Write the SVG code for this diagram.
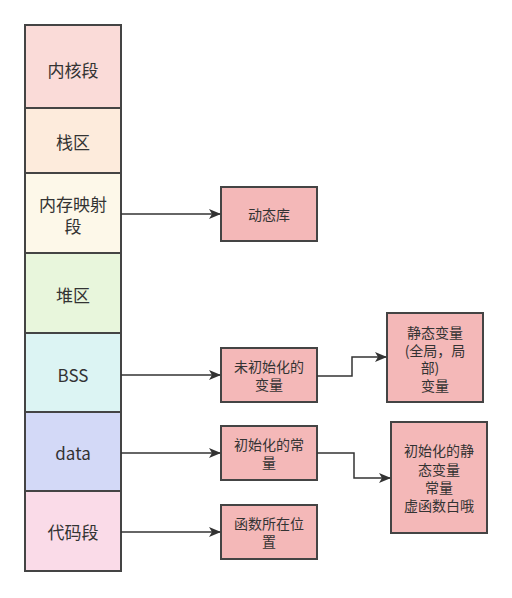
<svg xmlns="http://www.w3.org/2000/svg" width="512" height="598" viewBox="0 0 512 598">
<defs>
<marker id="arr" markerWidth="12" markerHeight="10" refX="11" refY="5" orient="auto" markerUnits="userSpaceOnUse">
<path d="M0,0 L12,5 L0,10 L3,5 Z" fill="#333"/>
</marker>
<style>
.seg{stroke:#444;stroke-width:2}
.box{fill:#f4b8b8;stroke:#444;stroke-width:2}
.lt{font-family:"Noto Sans CJK SC","Liberation Sans",sans-serif;font-size:17px;fill:#333;text-anchor:middle;dominant-baseline:central}
.bt{font-family:"Noto Sans CJK SC","Liberation Sans",sans-serif;font-size:14px;fill:#333;text-anchor:middle;dominant-baseline:central}
.con{fill:none;stroke:#333;stroke-width:1.5;marker-end:url(#arr)}
</style>
</defs>
<rect width="512" height="598" fill="#fff"/>
<g id="kernel"><rect class="seg" x="25" y="25" width="96" height="83" fill="#fadbd8"/><text class="lt" x="73" y="69">内核段</text></g>
<g id="stack"><rect class="seg" x="25" y="108" width="96" height="65" fill="#fdebdc"/><text class="lt" x="73" y="141">栈区</text></g>
<g id="mmap"><rect class="seg" x="25" y="173" width="96" height="80" fill="#fdf8e9"/><text class="lt" x="73" y="203">内存映射</text><text class="lt" x="73" y="225">段</text></g>
<g id="heap"><rect class="seg" x="25" y="253" width="96" height="80" fill="#e8f6dc"/><text class="lt" x="73" y="294">堆区</text></g>
<g id="bss"><rect class="seg" x="25" y="333" width="96" height="79" fill="#dcf4f3"/><text class="lt" x="73" y="374">BSS</text></g>
<g id="data"><rect class="seg" x="25" y="412" width="96" height="79" fill="#d3d9f7"/><text class="lt" x="73" y="452">data</text></g>
<g id="code"><rect class="seg" x="25" y="491" width="96" height="80" fill="#fadbe8"/><text class="lt" x="73" y="531">代码段</text></g>

<g id="dynlib"><rect class="box" x="221" y="187" width="96" height="54"/><text class="bt" x="269" y="214">动态库</text></g>
<g id="uninit"><rect class="box" x="221" y="348" width="96" height="54"/><text class="bt" x="269" y="366">未初始化的</text><text class="bt" x="269" y="384">变量</text></g>
<g id="static"><rect class="box" x="387" y="313" width="96" height="89"/><text class="bt" x="435" y="332">静态变量</text><text class="bt" x="435" y="350">(全局，局</text><text class="bt" x="430" y="367">部)</text><text class="bt" x="435" y="385">变量</text></g>
<g id="initconst"><rect class="box" x="221" y="426" width="96" height="54"/><text class="bt" x="269" y="444">初始化的常</text><text class="bt" x="269" y="462">量</text></g>
<g id="initstatic"><rect class="box" x="391" y="422" width="96" height="111"/><text class="bt" x="439" y="450">初始化的静</text><text class="bt" x="439" y="469">态变量</text><text class="bt" x="439" y="487">常量</text><text class="bt" x="439" y="505">虚函数白哦</text></g>
<g id="funcpos"><rect class="box" x="221" y="505" width="96" height="54"/><text class="bt" x="269" y="523">函数所在位</text><text class="bt" x="269" y="541">置</text></g>

<g id="connectors">
<path class="con" d="M121,214 H220"/>
<path class="con" d="M121,375 H220"/>
<path class="con" d="M121,453 H220"/>
<path class="con" d="M121,532 H220"/>
<path class="con" d="M317,376 H352 V357 H386"/>
<path class="con" d="M317,453 H354 V478 H390"/>
</g>
</svg>
